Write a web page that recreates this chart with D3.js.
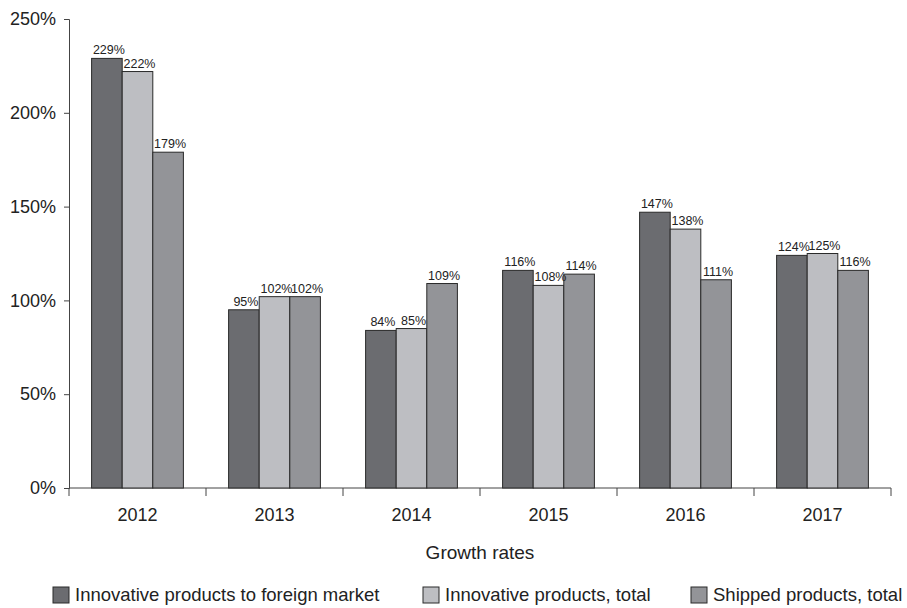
<!DOCTYPE html>
<html>
<head>
<meta charset="utf-8">
<script src="https://cdn.jsdelivr.net/npm/d3@7"></script>
<style>
    body { margin: 0; background: #fff; }
    text { font-family: "Liberation Sans", Arial, sans-serif; fill: #222; }
</style>
</head>
<body>
<script>
// Data
const years = ["2012", "2013", "2014", "2015", "2016", "2017"];
const seriesNames = ["Innovative products to foreign market", "Innovative products, total", "Shipped  products, total"];
const foreignMarket = [229, 95, 84, 116, 147, 124];
const innovativeTotal = [222, 102, 85, 108, 138, 125];
const shippedTotal = [179, 102, 109, 114, 111, 116];
const yTicks = [0, 50, 100, 150, 200, 250];

const seriesValues = [foreignMarket, innovativeTotal, shippedTotal];
const data = years.map((y, i) => ({
    year: y,
    values: seriesValues.map((s, j) => ({ key: seriesNames[j], value: s[i] }))
}));

const W = 907, H = 608;
const margin = { top: 19, right: 16, bottom: 120, left: 69 };
const width = W - margin.left - margin.right;
const height = H - margin.top - margin.bottom;

const svg = d3.select("body")
    .append("svg")
    .attr("width", W)
    .attr("height", H)
    .append("g")
    .attr("transform", `translate(${margin.left},${margin.top})`);

// Scales
const x0 = d3.scaleBand()
    .domain(years)
    .range([0, width])
    .paddingInner(0.33)
    .paddingOuter(0.165);

const x1 = d3.scaleBand()
    .domain(seriesNames)
    .range([0, x0.bandwidth()]);

const yScale = d3.scaleLinear()
    .domain([0, 250])
    .range([height, 0]);

const colorScale = d3.scaleOrdinal()
    .domain(seriesNames)
    .range(["#6b6c70", "#bdbec2", "#939498"]);

// Y axis
const yAxis = svg.append("g")
    .call(d3.axisLeft(yScale).tickValues(yTicks).tickSize(5).tickPadding(8).tickFormat(d => d + "%"));
yAxis.select(".domain").attr("stroke", "#444");
yAxis.selectAll(".tick line").attr("stroke", "#444");
yAxis.selectAll("text").style("font-size", "18px").attr("fill", "#222");

// X axis: ticks at category boundaries
const xAxis = svg.append("g")
    .attr("transform", `translate(0,${height})`);
xAxis.append("line")
    .attr("x1", 0).attr("x2", width)
    .attr("stroke", "#444");
xAxis.selectAll(".bound")
    .data(years.concat(["end"]))
    .enter()
    .append("line")
    .attr("x1", (d, i) => i * x0.step())
    .attr("x2", (d, i) => i * x0.step())
    .attr("y1", 0).attr("y2", 8)
    .attr("stroke", "#444");
xAxis.selectAll(".yl")
    .data(years)
    .enter()
    .append("text")
    .attr("x", d => x0(d) + x0.bandwidth() / 2)
    .attr("y", 27)
    .attr("dy", ".35em")
    .attr("text-anchor", "middle")
    .style("font-size", "18px")
    .text(d => d);

// Axis title
svg.append("text")
    .attr("x", width / 2)
    .attr("y", height + 64)
    .attr("dy", ".35em")
    .attr("text-anchor", "middle")
    .style("font-size", "19px")
    .text("Growth rates");

// Bars
const groups = svg.selectAll(".group")
    .data(data)
    .enter()
    .append("g")
    .attr("transform", d => `translate(${x0(d.year)},0)`);

groups.selectAll("rect")
    .data(d => d.values)
    .enter()
    .append("rect")
    .attr("x", d => x1(d.key))
    .attr("y", d => yScale(d.value))
    .attr("width", x1.bandwidth())
    .attr("height", d => height - yScale(d.value))
    .attr("fill", d => colorScale(d.key))
    .attr("stroke", "#2a2a2a")
    .attr("stroke-width", 1);

groups.selectAll(".label")
    .data(d => d.values)
    .enter()
    .append("text")
    .attr("x", d => x1(d.key) + x1.bandwidth() / 2 + 2)
    .attr("y", d => yScale(d.value) - 4)
    .attr("text-anchor", "middle")
    .style("font-size", "12.5px")
    .text(d => d.value + "%");

// Legend
const legendX = [53, 423, 691];
const legend = svg.selectAll(".legend")
    .data(seriesNames)
    .enter()
    .append("g")
    .attr("transform", (d, i) => `translate(${legendX[i] - margin.left},${height + 99})`);

legend.append("rect")
    .attr("width", 16)
    .attr("height", 16)
    .attr("fill", colorScale)
    .attr("stroke", "#2a2a2a");

legend.append("text")
    .attr("x", 22)
    .attr("y", 8)
    .attr("dy", ".35em")
    .style("font-size", "18.5px")
    .text(d => d);
</script>
</body>
</html>
